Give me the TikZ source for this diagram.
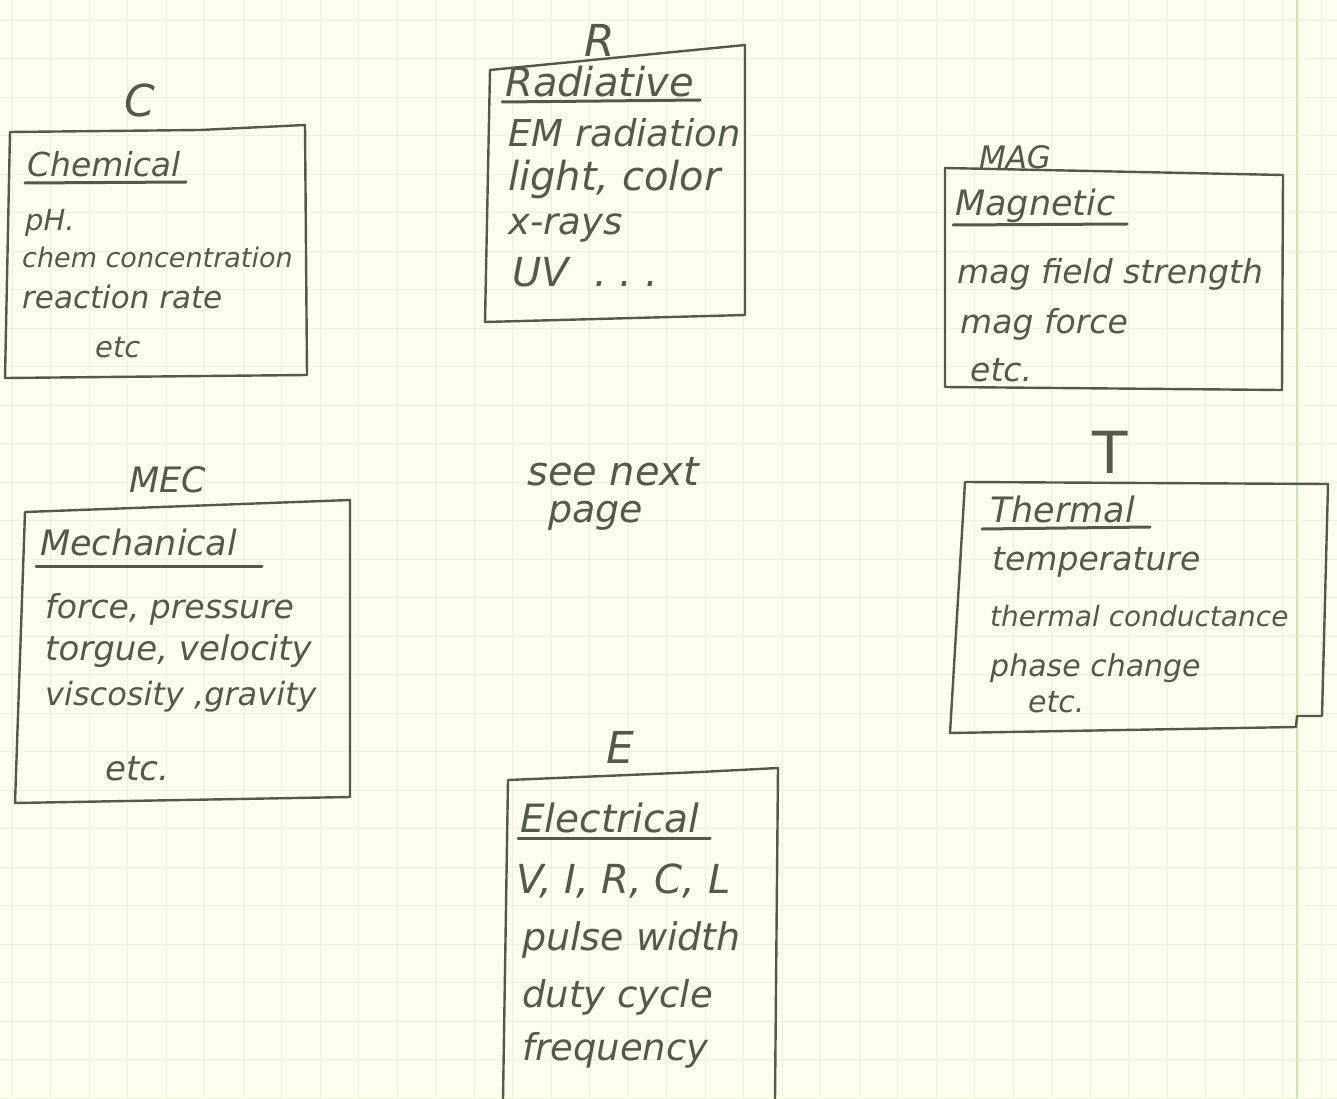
\documentclass[tikz,border=0pt]{standalone}
\usepackage{fontspec}
\setmainfont{DejaVu Sans}
\definecolor{paper}{HTML}{FDFFEF}
\definecolor{gridc}{HTML}{EEF2DC}
\definecolor{margin}{HTML}{C2EBAC}
\definecolor{ink}{HTML}{545A48}
\tikzset{
  hand/.style={font=\fontsize{#1}{#1}\selectfont\itshape, text=ink, inner sep=0pt, anchor=base west},
  hand/.default=28,
  big/.style={font=\fontsize{44}{48}\selectfont\itshape, text=ink, inner sep=0pt},
  mid/.style={font=\fontsize{#1}{#1}\selectfont\itshape, text=ink, inner sep=0pt},
  mid/.default=30,
  boxline/.style={draw=ink, line width=2.4pt, line join=round},
  uline/.style={draw=ink, line width=3pt, line cap=round}
}
\begin{document}
\begin{tikzpicture}[x=1pt,y=-1pt]
\fill[paper] (0,0) rectangle (1337,1099);
\useasboundingbox (0,0) rectangle (1337,1099);
% faint grid
\foreach \i in {0,...,28} {\draw[gridc, line width=0.8pt] (0,{20+\i*38.5}) -- (1337,{20+\i*38.5});}
\foreach \i in {0,...,34} {\draw[gridc, line width=0.8pt] ({12+\i*38.5},0) -- ({12+\i*38.5},1099);}
\draw[margin, line width=2pt] (1297,0) -- (1297,1099);

% Chemical
\node[big] (lc) at (140,100) {C};
\draw[boxline] (10,132) -- (200,130) -- (305,125) -- (307,375) -- (5,378) -- cycle;
\node[hand=33] (c0) at (27,177) {Chemical};
\draw[uline] (25,183) -- (186,182);
\node[hand=29] (c1) at (25,230) {pH.};
\node[hand=27] (c2) at (22,267) {chem concentration};
\node[hand=31] (c3) at (22,308) {reaction rate};
\node[hand=29] (c4) at (95,357) {etc};

% Radiative
\node[big] (lr) at (600,40) {R};
\draw[boxline] (490,70) -- (745,45) -- (745,315) -- (485,322) -- cycle;
\node[hand=40] (r0) at (505,97) {Radiative};
\draw[uline] (502,102) -- (700,100);
\node[hand=37] (r1) at (508,147) {EM radiation};
\node[hand=40] (r2) at (508,191) {light, color};
\node[hand=37] (r3) at (508,234) {x-rays};
\node[hand=40] (r4) at (512,286) {UV \ .\ .\ .};

% Magnetic
\node[mid=31] (lm) at (1015,157) {MAG};
\draw[boxline] (945,168) -- (1283,175) -- (1282,390) -- (945,387) -- cycle;
\node[hand=35] (m0) at (955,215) {Magnetic};
\draw[uline] (953,225) -- (1127,224);
\node[hand=33] (m1) at (957,283) {mag field strength};
\node[hand=33] (m2) at (960,333) {mag force};
\node[hand=33] (m3) at (970,381) {etc.};

% Mechanical
\node[mid=35] (lmec) at (168,480) {MEC};
\draw[boxline] (25,512) -- (350,500) -- (350,797) -- (15,803) -- cycle;
\node[hand=35] (e0) at (40,555) {Mechanical};
\draw[uline] (36,566) -- (262,566);
\node[hand=33] (e1) at (45,618) {force, pressure};
\node[hand=34] (e2) at (45,660) {torgue, velocity};
\node[hand=32] (e3) at (45,705) {viscosity ,gravity};
\node[hand=34] (e4) at (105,780) {etc.};

% see next page
\node[hand=40] (s1) at (527,485) {see next};
\node[hand=38] (s2) at (548,522) {page};

% Thermal
\node[font=\fontsize{58}{60}\selectfont, text=ink, inner sep=0pt] (lt) at (1110,452) {T};
\draw[boxline] (965,482) -- (1328,484) -- (1322,716) -- (1297,716) -- (1296,727) -- (950,733) -- cycle;
\node[hand=35] (t0) at (990,522) {Thermal};
\draw[uline] (982,529) -- (1150,527);
\node[hand=33] (t1) at (992,570) {temperature};
\node[hand=28] (t2) at (990,626) {thermal conductance};
\node[hand=30] (t3) at (990,676) {phase change};
\node[hand=30] (t4) at (1028,712) {etc.};

% Electrical
\node[big] (le) at (620,747) {E};
\draw[boxline] (503,1099) -- (508,780) -- (700,772) -- (778,768) -- (775,1099);
\node[hand=39] (l0) at (520,832) {Electrical};
\draw[uline] (518,838) -- (710,838);
\node[hand=40] (l1) at (516,893) {V, I, R, C, L};
\node[hand=38] (l2) at (522,950) {pulse width};
\node[hand=37] (l3) at (522,1007) {duty cycle};
\node[hand=37] (l4) at (522,1060) {frequency};
\end{tikzpicture}
\end{document}
